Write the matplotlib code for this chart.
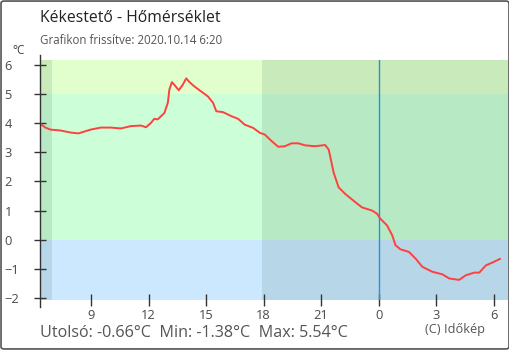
"""
Kékestető temperature chart, rebuilt with matplotlib.
Hours are counted from midnight of 2020.10.13 (24 = midnight of the 14th).
"""

import matplotlib
matplotlib.use("Agg")
import matplotlib.pyplot as plt
from matplotlib.lines import Line2D
from matplotlib.patches import FancyBboxPatch

plt.rcParams["font.family"] = ["Open Sans", "DejaVu Sans"]

# Data
hours = [6.33, 6.61, 6.88, 7.40, 7.92, 8.34, 8.97, 9.50, 10.02, 10.55, 11.07,
         11.60, 11.86, 12.12, 12.29, 12.47, 12.82, 13.00, 13.08, 13.21, 13.34,
         13.57, 13.78, 13.96, 14.13, 14.39, 14.74, 15.09, 15.36, 15.53, 15.88,
         16.32, 16.67, 17.01, 17.45, 17.80, 18.06, 18.41, 18.76, 19.11, 19.46,
         19.81, 20.16, 20.68, 21.21, 21.39, 21.47, 21.65, 21.91, 22.26, 22.78,
         23.13, 23.66, 23.92, 24.09, 24.44, 24.71, 24.88, 25.14, 25.58, 25.93,
         26.28, 26.80, 27.33, 27.68, 28.20, 28.55, 28.99, 29.25, 29.60, 29.95,
         30.33]
temps = [3.99, 3.85, 3.78, 3.75, 3.68, 3.65, 3.78, 3.85, 3.85, 3.82, 3.90,
         3.92, 3.86, 4.01, 4.15, 4.13, 4.35, 4.70, 5.15, 5.41, 5.32,
         5.13, 5.32, 5.54, 5.41, 5.26, 5.09, 4.92, 4.70, 4.41, 4.38,
         4.24, 4.15, 3.95, 3.84, 3.67, 3.61, 3.39, 3.19, 3.21, 3.31,
         3.31, 3.24, 3.21, 3.25, 3.10, 2.87, 2.31, 1.80, 1.57, 1.29,
         1.11, 1.00, 0.89, 0.72, 0.49, 0.15, -0.19, -0.33, -0.42, -0.65,
         -0.93, -1.10, -1.19, -1.33, -1.38, -1.22, -1.13, -1.13, -0.88, -0.78,
         -0.66]
x_ticks = [9, 12, 15, 18, 21, 24, 27, 30]
x_labels = ["9", "12", "15", "18", "21", "0", "3", "6"]
y_ticks = [-2, -1, 0, 1, 2, 3, 4, 5, 6]
night_spans = [(6.33, 6.97), (17.93, 30.75)]
midnight = 24

TITLE = "Kékestető - Hőmérséklet"
SUBTITLE = "Grafikon frissítve: 2020.10.14 6:20"
SUMMARY = "Utolsó: -0.66°C  Min: -1.38°C  Max: 5.54°C"
CREDIT = "(C) Időkép"

X_MIN, X_MAX = 6.33, 30.75
Y_MIN, Y_MAX = -2.07, 6.17

# Colours
WARM = "#e0ffcc"     # above 5 degrees
MILD = "#ccffd8"     # 0..5 degrees
COLD = "#cce8ff"     # below 0
LINE_RED = "#ff4040"
AXIS_GRAY = "#333333"
TEXT_GRAY = "#555555"

fig = plt.figure(figsize=(5.10, 3.50), dpi=100)
ax = fig.add_axes([40 / 510, 50 / 350, 468 / 510, 240 / 350])

# background temperature bands
ax.axhspan(5, Y_MAX, color=WARM, lw=0, zorder=0)
ax.axhspan(0, 5, color=MILD, lw=0, zorder=0)
ax.axhspan(Y_MIN, 0, color=COLD, lw=0, zorder=0)

# night shading
for start, end in night_spans:
    ax.axvspan(start, end, color="#1a4a30", alpha=0.115, lw=0, zorder=1)

ax.axvline(midnight, color="#2a8fe0", lw=1.0, zorder=2)
ax.plot(hours, temps, color=LINE_RED, lw=1.4, zorder=3)

ax.set_xlim(X_MIN, X_MAX)
ax.set_ylim(Y_MIN, Y_MAX)
ax.set_xticks(x_ticks)
ax.set_xticklabels(x_labels)
ax.set_yticks(y_ticks)

for spine in ax.spines.values():
    spine.set_visible(False)

ax.tick_params(axis="both", direction="inout", color=AXIS_GRAY, width=1.0,
               labelsize=9.3, labelcolor="#4a4a4a")
ax.tick_params(axis="y", length=9, pad=21)
ax.tick_params(axis="x", length=9, pad=2)
for lbl in ax.get_yticklabels():
    lbl.set_horizontalalignment("left")

# left axis line, a little longer than the plot area
ax.add_line(Line2D([0, 0], [-0.03, 1.02], transform=ax.transAxes,
                   color=AXIS_GRAY, lw=1.0, clip_on=False, zorder=5))

# texts
fig.text(40 / 510, 1 - 18 / 350, TITLE, fontsize=11.3, color="#222222", va="center")
fig.text(40 / 510, 1 - 40 / 350, SUBTITLE, fontsize=8.3, color=TEXT_GRAY, va="center")
fig.text(12 / 510, 1 - 51 / 350, "°C", fontsize=8.5, color="#444444", va="center")
fig.text(40 / 510, 1 - 333 / 350, SUMMARY, fontsize=11.6, color=TEXT_GRAY, va="center")
fig.text(425 / 510, 1 - 330 / 350, CREDIT, fontsize=9.2, color=TEXT_GRAY, va="center")

# outer frame
fig.patches.append(FancyBboxPatch((0.002, 0.003), 0.996, 0.994,
                                  boxstyle="round,pad=0,rounding_size=0.006",
                                  transform=fig.transFigure, fill=False,
                                  edgecolor="#555555", lw=1.2))

fig.savefig("out.png", dpi=100)
